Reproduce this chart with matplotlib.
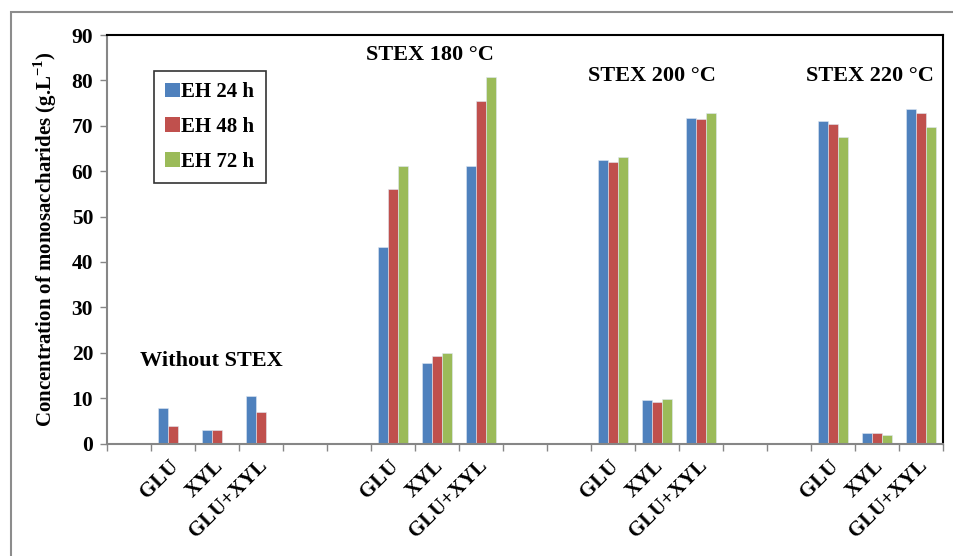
import matplotlib.pyplot as plt
from matplotlib.patches import Rectangle, Patch
from matplotlib.transforms import ScaledTranslation
import numpy as np

plt.rcParams['font.family'] = ['Liberation Serif', 'DejaVu Serif']
plt.rcParams['font.weight'] = 'bold'
plt.rcParams['axes.labelweight'] = 'bold'
plt.rcParams['mathtext.fontset'] = 'custom'
plt.rcParams['mathtext.rm'] = 'Liberation Serif:bold'
plt.rcParams['mathtext.bf'] = 'Liberation Serif:bold'

# Category axis: empty slots separate the four pretreatment groups
categories = ['', 'GLU', 'XYL', 'GLU+XYL', '',
              '', 'GLU', 'XYL', 'GLU+XYL', '',
              '', 'GLU', 'XYL', 'GLU+XYL', '',
              '', 'GLU', 'XYL', 'GLU+XYL']

series_names = ['EH 24 h', 'EH 48 h', 'EH 72 h']
eh24 = [0, 7.8, 3.0, 10.5, 0, 0, 43.3, 17.8, 61.1, 0, 0, 62.5, 9.5, 71.8, 0, 0, 71.1, 2.3, 73.7]
eh48 = [0, 3.9, 3.0, 6.9, 0, 0, 56.1, 19.2, 75.4, 0, 0, 62.1, 9.1, 71.5, 0, 0, 70.4, 2.3, 72.9]
eh72 = [0, 0.2, 0, 0.2, 0, 0, 61.1, 19.9, 80.7, 0, 0, 63.2, 9.8, 72.9, 0, 0, 67.6, 1.9, 69.7]

group_labels = ['Without STEX', 'STEX 180 °C', 'STEX 200 °C', 'STEX 220 °C']
group_x = [1.86, 6.84, 11.89, 16.84]
group_y = [18.2, 85.5, 80.9, 80.9]

colors = ['#4F81BD', '#C0504D', '#9BBB59']

fig = plt.figure(figsize=(9.54, 5.56), dpi=100)
ax = fig.add_axes([0.1122, 0.2023, 0.8763, 0.7347])

# light grey frame around the whole chart area
fig.patches.append(Rectangle((11 / 954, -0.1), 1.2, 1 - 12 / 556 + 0.1,
                             transform=fig.transFigure, fill=False,
                             edgecolor='#8c8c8c', linewidth=1.5))

x = np.arange(len(categories))
w = 0.222
for i, vals in enumerate([eh24, eh48, eh72]):
    ax.bar(x + (i - 1) * w, vals, width=w, color=colors[i],
           edgecolor='#dfe8f3', linewidth=0.4, label=series_names[i])

ax.set_xlim(-0.5, len(categories) - 0.5)
ax.set_ylim(0, 90)
ax.set_yticks(range(0, 91, 10))
ax.tick_params(axis='y', labelsize=15.5, length=5, color='#868686', width=1, pad=5)

# tick marks on category boundaries, labels on centers
ax.set_xticks(x)
ax.set_xticklabels(categories, rotation=45, ha='right', va='center',
                   rotation_mode='anchor', fontsize=15)
ax.set_xticks(np.arange(-0.5, len(categories)), minor=True)
ax.tick_params(axis='x', which='major', length=0, pad=14)
ax.tick_params(axis='x', which='minor', length=5, color='#868686', width=1)
shift = ScaledTranslation(3 / 100, 0, fig.dpi_scale_trans)
for lbl in ax.get_xticklabels():
    lbl.set_transform(lbl.get_transform() + shift)

ax.spines['left'].set_color('#868686')
ax.spines['bottom'].set_color('#868686')
ax.spines['left'].set_linewidth(1.5)
ax.spines['bottom'].set_linewidth(1.5)
ax.spines['top'].set_color('black')
ax.spines['right'].set_color('black')
ax.spines['top'].set_linewidth(1.5)
ax.spines['right'].set_linewidth(1.5)

ax.set_ylabel('Concentration of monosaccharides (g.L$^{-1}$)', fontsize=15, labelpad=9)

# group captions
for lab, gx, gy in zip(group_labels, group_x, group_y):
    ax.text(gx, gy, lab, ha='center', va='center', fontsize=16)

handles = [Patch(facecolor=c, edgecolor='none') for c in colors]
leg = ax.legend(handles, series_names, loc='upper left', bbox_to_anchor=(0.056, 0.912),
                fontsize=15, frameon=True, fancybox=False, edgecolor='black',
                handlelength=0.7, handleheight=0.7, handletextpad=0.05,
                labelspacing=0.7, borderpad=0.55, borderaxespad=0)
leg.get_frame().set_linewidth(1.2)

fig.savefig('out.png', dpi=100)
